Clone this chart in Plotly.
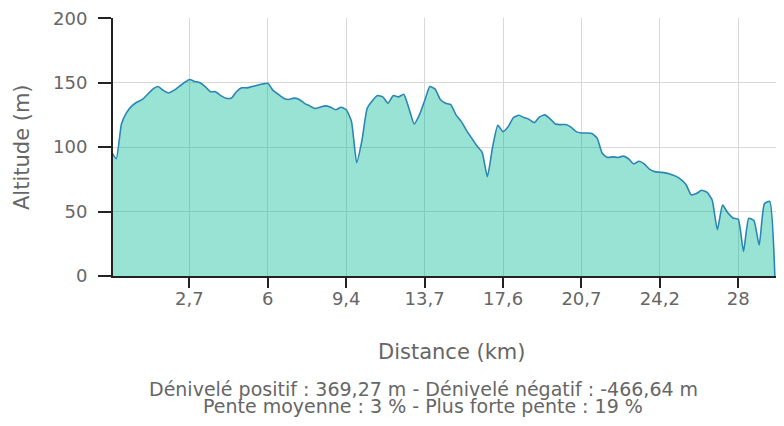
import plotly.graph_objects as go

# Altitude (m) of each profile sample, in order along the route
altitude = [
    97, 91, 118, 127, 132, 135, 137, 141, 145, 147,
    144, 142, 144, 147, 150, 152.5, 151, 150, 147, 143,
    143, 140, 138, 138, 143, 146, 146, 147, 148, 149,
    149.5, 144, 141, 138, 137, 138, 137, 134, 132, 130,
    131, 132, 131, 129, 131, 129, 120, 88, 105, 130,
    136, 140, 139, 134, 140, 139, 141, 130, 118, 125,
    136, 147, 145, 137, 134, 133, 125, 120, 113, 107,
    101, 96, 77, 100, 117, 112, 116, 123, 124.7, 123,
    121.5, 119, 123.5, 125, 122, 118, 117.5, 117.5, 115.5, 112,
    111, 111, 110.5, 107, 95, 92, 92.4, 92, 93, 91,
    87, 89, 87, 83, 81, 80.5, 80, 79, 77.5, 75,
    71, 63, 64, 66.5, 65, 59, 36, 55, 49, 45,
    44, 19, 44.7, 43, 24, 56, 58, 0,
]

# Distance labels (km) shown every 15 samples
tick_labels = ["2,7", "6", "9,4", "13,7", "17,6", "20,7", "24,2", "28"]
tick_step = 15

y_ticks = [0, 50, 100, 150, 200]

x_title = "Distance (km)"
y_title = "Altitude (m)"
subtitle_lines = [
    "Dénivelé positif : 369,27 m - Dénivelé négatif : -466,64 m",
    "Pente moyenne : 3 % - Plus forte pente : 19 %",
]

samples = list(range(len(altitude)))
tickvals = [tick_step * (i + 1) for i in range(len(tick_labels))]

FONT = "DejaVu Sans"
GRID = "#d8d8d8"
TXT = "#666666"

# the page body adds an 8 px offset; plot area on the page: left 113, top 18, bottom 276
PH = 258.0
def py(ypx):
    return (276 - ypx) / PH

fig = go.Figure()
fig.add_trace(go.Scatter(
    x=samples, y=altitude, mode="lines",
    line=dict(color="#2a86b5", width=1.6, shape="spline", smoothing=0.5),
    fill="tozeroy", fillcolor="rgba(0,185,150,0.40)",
    hoverinfo="skip", showlegend=False,
))

annotations = [
    dict(text=x_title, xref="paper", yref="paper", x=0.505, y=py(352),
         showarrow=False, xanchor="center", yanchor="middle",
         font=dict(family=FONT, size=21, color=TXT)),
    dict(text=y_title, xref="paper", yref="paper", x=-0.1356, y=0.5,
         showarrow=False, xanchor="center", yanchor="middle", textangle=-90,
         font=dict(family=FONT, size=21, color=TXT)),
]
for line, ypx in zip(subtitle_lines, [389, 406]):
    annotations.append(dict(
        text=line, xref="paper", yref="paper", x=0.462, y=py(ypx),
        showarrow=False, xanchor="center", yanchor="middle",
        font=dict(family=FONT, size=19, color=TXT)))

fig.update_layout(
    width=776, height=418,
    margin=dict(l=105, r=0, t=10, b=150, autoexpand=False),
    paper_bgcolor="white", plot_bgcolor="white",
    font=dict(family=FONT, color=TXT, size=15),
    xaxis=dict(
        range=[0.38, 128.75], tickmode="array", tickvals=tickvals, ticktext=tick_labels,
        showgrid=True, gridcolor=GRID, gridwidth=1,
        showline=True, linecolor="#222222", linewidth=2,
        ticks="outside", ticklen=10, tickcolor="#222222", tickwidth=2,
        ticklabelstandoff=-5,
        tickfont=dict(family=FONT, size=18, color=TXT),
        zeroline=False, fixedrange=True, automargin=False,
    ),
    yaxis=dict(
        range=[0, 200.2], tickmode="array", tickvals=y_ticks,
        showgrid=True, gridcolor=GRID, gridwidth=1,
        showline=True, linecolor="#222222", linewidth=2,
        ticks="outside", ticklen=13, tickcolor="#222222", tickwidth=2,
        ticklabelstandoff=7, ticklabeloverflow="allow",
        tickfont=dict(family=FONT, size=18, color=TXT),
        zeroline=False, fixedrange=True, automargin=False,
    ),
    annotations=annotations,
)

fig.write_html("out.html")
